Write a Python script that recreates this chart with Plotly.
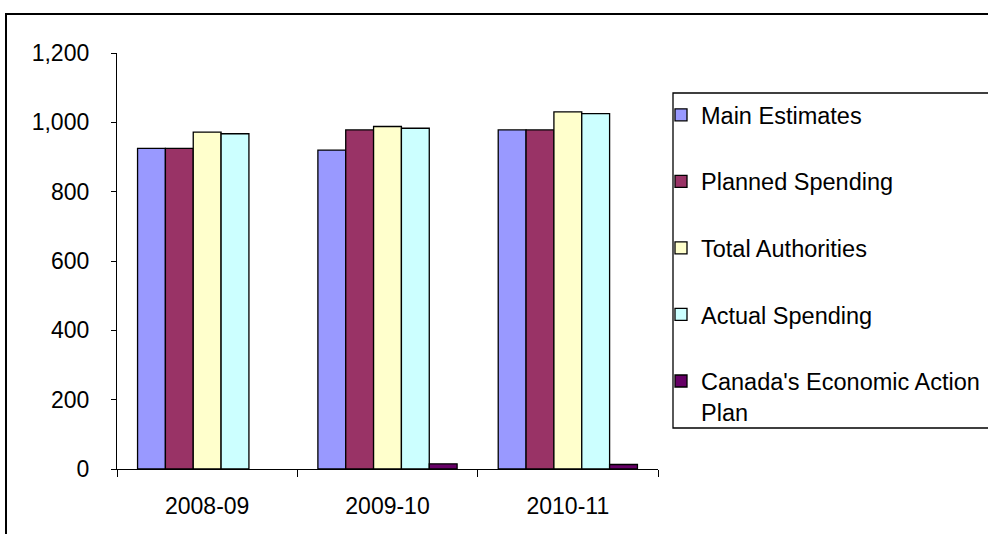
import plotly.graph_objects as go

# Fiscal years on the category axis
years = ["2008-09", "2009-10", "2010-11"]

# Spending by series ($ thousands); the Action Plan had no 2008-09 amount
main_estimates = [925, 920, 978]
planned_spending = [925, 978, 978]
total_authorities = [972, 988, 1030]
actual_spending = [967, 983, 1025]
economic_action_plan = [None, 15, 13]

series_names = [
    "Main Estimates",
    "Planned Spending",
    "Total Authorities",
    "Actual Spending",
    "Canada's Economic Action<br>Plan",
]
series_values = [main_estimates, planned_spending, total_authorities,
                 actual_spending, economic_action_plan]
series_colors = ["#9999FF", "#993366", "#FFFFCC", "#CCFFFF", "#660066"]

y_ticks = [0, 200, 400, 600, 800, 1000, 1200]

W, H = 988, 534
L, R, T, B = 117, 330, 53, 65
pw, ph = W - L - R, H - T - B


def px_x(x):
    return (x - L) / pw


def px_y(y):
    return (H - B - y) / ph


fig = go.Figure()
for i, (name, vals, col) in enumerate(zip(series_names, series_values, series_colors)):
    fig.add_trace(go.Bar(
        x=years, y=vals, name=name, legendgroup=f"g{i}",
        marker=dict(color=col, line=dict(color="#000000", width=1.3)),
    ))

font = dict(family="Liberation Sans, Arial, sans-serif", size=23, color="#000000")
legend_font = dict(font, size=23.5)

fig.update_layout(
    width=W, height=H,
    margin=dict(l=L, r=R, t=T, b=B, autoexpand=False),
    paper_bgcolor="white", plot_bgcolor="white",
    font=font,
    barmode="group", bargap=0.228, bargroupgap=0,
    showlegend=True,
    legend=dict(
        x=px_x(661), xanchor="left",
        y=px_y(93), yanchor="top",
        borderwidth=0, bgcolor="rgba(0,0,0,0)",
        traceorder="grouped", tracegroupgap=33,
        valign="top", itemclick=False,
        font=legend_font,
    ),
    xaxis=dict(
        type="category", range=[-0.5, 2.5],
        showline=True, linecolor="#000000", linewidth=1.3,
        ticks="outside", ticklen=7, tickcolor="#000000", tickwidth=1.3,
        tickson="boundaries", showgrid=False, zeroline=False,
        ticklabelstandoff=16,
    ),
    yaxis=dict(
        range=[0, 1200], tickvals=y_ticks, tickformat=",d",
        showline=True, linecolor="#000000", linewidth=1.3,
        ticks="outside", ticklen=5, tickcolor="#000000", tickwidth=1.3,
        showgrid=False, zeroline=False,
        ticklabelstandoff=17,
    ),
)

# Chart-area frame running off the right and bottom edges
fig.add_shape(
    type="rect", xref="paper", yref="paper",
    x0=px_x(6), x1=px_x(W + 10),
    y0=px_y(H + 10), y1=px_y(14),
    line=dict(color="#000000", width=2), fillcolor="rgba(0,0,0,0)",
    layer="below",
)

# Legend frame
fig.add_shape(
    type="rect", xref="paper", yref="paper",
    x0=px_x(673), x1=px_x(W + 10),
    y0=px_y(428), y1=px_y(93),
    line=dict(color="#000000", width=1.3), fillcolor="rgba(0,0,0,0)",
    layer="below",
)

fig.write_html("out.html")
